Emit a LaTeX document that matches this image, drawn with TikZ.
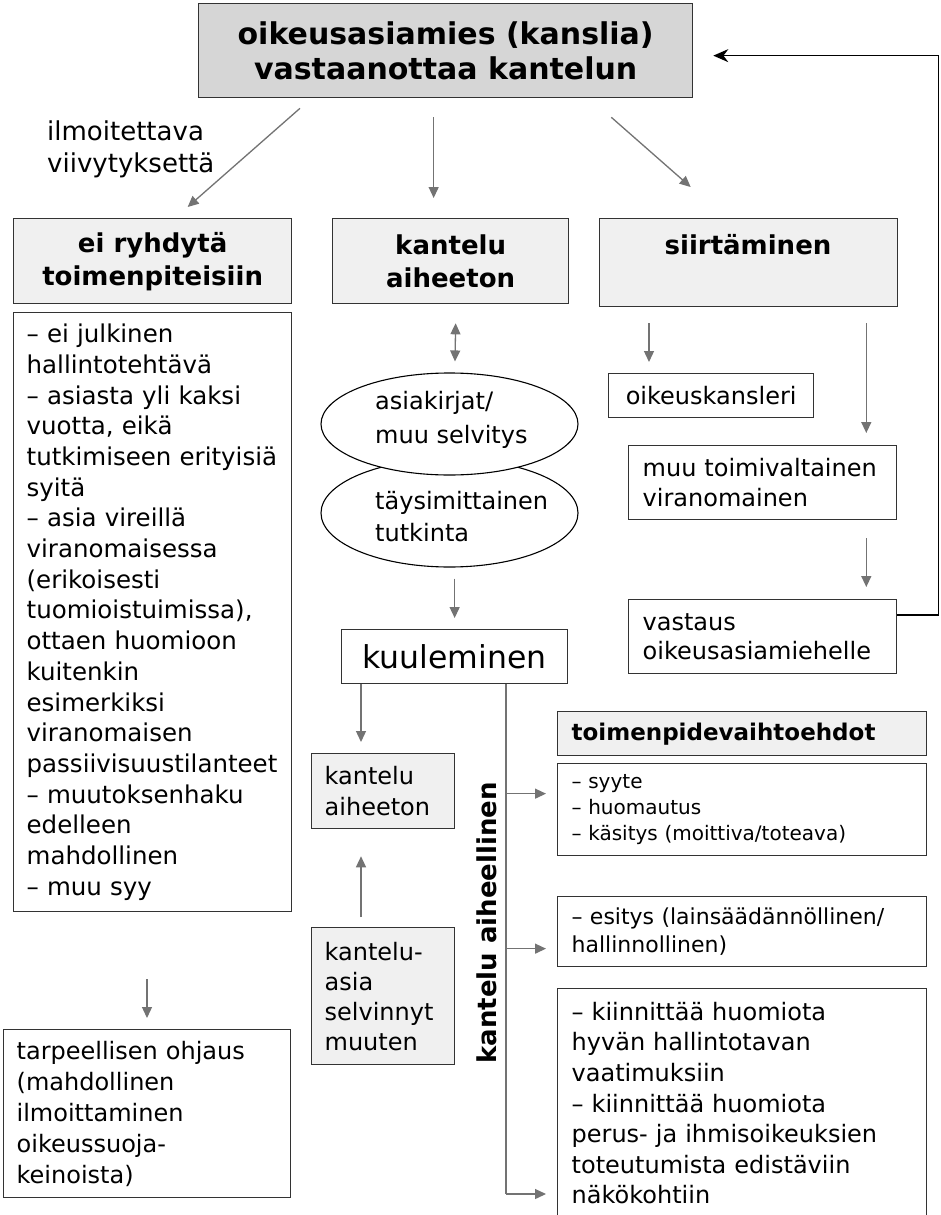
\documentclass[tikz,border=0pt]{standalone}
\usepackage{fontspec}
\setmainfont{DejaVu Sans}
\usetikzlibrary{arrows.meta,calc,shapes.geometric}
\newcommand\myfs[2]{\fontsize{#1}{#2}\selectfont}
\begin{document}
\begin{tikzpicture}[x=1pt,y=-1pt,
  box/.style={draw=black!80, line width=1.3pt, anchor=north west, inner sep=0pt},
  dark/.style={fill=black!16},
  light/.style={fill=black!6},
  arr/.style={draw=black!55, line width=1.3pt, -{Triangle[length=11pt,width=10pt]}},
  arrtwo/.style={draw=black!55, line width=1.3pt, {Triangle[length=11pt,width=10pt]}-{Triangle[length=11pt,width=10pt]}},
  gline/.style={draw=black!55, line width=1.3pt},
  fb/.style={draw=black, line width=1.5pt, -{Stealth[length=15pt,width=13pt]}},
  ell/.style={draw=black, line width=1.1pt, ellipse, inner sep=0pt}
]
\fill[white] (0,0) rectangle (940,1215);
\useasboundingbox (0,0) rectangle (940,1215);

% top
\node[box,dark,minimum width=494,minimum height=94,align=center,font=\bfseries\myfs{30}{35}] (top) at (198,3) {oikeusasiamies (kanslia)\\vastaanottaa kantelun};
\node[anchor=west,inner sep=0pt,align=left,font=\myfs{26}{32}] (ilm) at (47,149) {ilmoitettava\\viivytyksettä};

% row 2
\node[box,light,minimum width=278,minimum height=85,align=center,font=\bfseries\myfs{26}{33}] (n1) at (13,218) {ei ryhdytä\\toimenpiteisiin};
\node[box,light,minimum width=236,minimum height=85,align=center,font=\bfseries\myfs{26}{33}] (n2) at (332,218) {kantelu\\aiheeton};
\node[box,light,minimum width=298,minimum height=88] (n3) at (599,218) {};
\node[font=\bfseries\myfs{26}{33},inner sep=0pt] (n3t) at (748,245) {siirtäminen};

% left column
\node[box,minimum width=278,minimum height=599,text width=252,inner xsep=13pt,align=left,font=\myfs{24.5}{30.7}] (lb) at (13,312) {– ei julkinen\\hallintotehtävä\\– asiasta yli kaksi\\vuotta, eikä\\tutkimiseen erityisiä\\syitä\\– asia vireillä\\viranomaisessa\\(erikoisesti\\tuomioistuimissa),\\ottaen huomioon\\kuitenkin\\esimerkiksi\\viranomaisen\\passiivisuustilanteet\\– muutoksenhaku\\edelleen\\mahdollinen\\– muu syy};
\node[box,minimum width=287,minimum height=168,text width=261,inner xsep=13pt,align=left,font=\myfs{24}{31}] (tp) at (3,1029) {tarpeellisen ohjaus\\(mahdollinen\\ilmoittaminen\\oikeussuoja-\\keinoista)};

% middle column
\node[ell,minimum width=257,minimum height=108] (e2) at (449.5,513) {};
\node[ell,fill=white,minimum width=257,minimum height=102] (e1) at (449.5,424) {};
\node[anchor=west,align=left,inner sep=0pt,font=\myfs{24}{34}] (e1t) at (375,420) {asiakirjat/\\muu selvitys};
\node[anchor=west,align=left,inner sep=0pt,font=\myfs{24}{32}] (e2t) at (375,517) {täysimittainen\\tutkinta};
\node[box,minimum width=226,minimum height=54,font=\myfs{31.5}{36}] (ku) at (341,629) {kuuleminen};
\node[box,light,minimum width=143,minimum height=75,text width=117,inner xsep=13pt,align=left,font=\myfs{24}{31}] (ka2) at (311,753) {kantelu\\aiheeton};
\node[box,light,minimum width=143,minimum height=137,text width=117,inner xsep=13pt,align=left,font=\myfs{24}{30}] (ka3) at (311,927) {kantelu-\\asia\\selvinnyt\\muuten};
\node[rotate=90,inner sep=0pt,font=\bfseries\myfs{26}{30}] (kai) at (487,923) {kantelu aiheellinen};

% right lower boxes
\node[box,light,minimum width=369,minimum height=44,text width=341,inner xsep=14pt,align=left,font=\bfseries\myfs{23}{28}] (rh) at (557,711) {toimenpidevaihtoehdot};
\node[box,minimum width=369,minimum height=92,text width=341,inner xsep=14pt,align=left,font=\myfs{20}{26}] (r2) at (557,763) {– syyte\\– huomautus\\– käsitys (moittiva/toteava)};
\node[box,minimum width=369,minimum height=70,text width=341,inner xsep=14pt,align=left,font=\myfs{22}{28}] (r3) at (557,896) {– esitys (lainsäädännöllinen/\\hallinnollinen)};
\node[box,minimum width=369,minimum height=229,text width=341,inner xsep=14pt,align=left,font=\myfs{24}{30.6}] (r4) at (557,988) {– kiinnittää huomiota\\hyvän hallintotavan\\vaatimuksiin\\– kiinnittää huomiota\\perus- ja ihmisoikeuksien\\toteutumista edistäviin\\näkökohtiin};

% right column
\node[box,minimum width=205,minimum height=44,font=\myfs{24}{30}] (ok) at (608,373) {oikeuskansleri};
\node[box,minimum width=268,minimum height=74,text width=240,inner xsep=14pt,align=left,font=\myfs{24}{30}] (mt) at (628,445) {muu toimivaltainen\\viranomainen};
\node[box,minimum width=268,minimum height=74,text width=240,inner xsep=14pt,align=left,font=\myfs{24}{29}] (va) at (628,599) {vastaus\\oikeusasiamiehelle};

% connectors
\draw[arr] ($(top.south west)+(102,10)$) -- ($(n1.north)+(35,-11)$);
\draw[arr] ($(top.south)+(-12,19)$) -- ($(n2.north)+(-17,-20)$);
\draw[arr] ($(top.south east)+(-82,19)$) -- ($(n3.north)+(-58,-31)$);
\draw[arrtwo] ($(n2.south)+(5,19)$) -- ($(e1.north)+(5.5,-11)$);
\draw[arr,shorten <=11pt,shorten >=11pt] (ku.north |- e2.south) -- (ku.north);
\draw[arr] ($(ku.south west)+(20,0)$) -- ($(ka2.north west)+(50,-11)$);
\draw[arr] ($(ka3.north west)+(50,-10)$) -- ($(ka2.south west)+(50,27)$);
\coordinate (vt) at ($(ku.south west)+(165,0)$);
\coordinate (vb) at ($(r4.north west)+(-51,206)$);
\draw[gline] (vt) -- (vb);
\draw[arr] (vb) -- ($(r4.north west)+(-11,206)$);
\draw[arr] ($(vt |- r2.west)+(0,-16)$) -- ($(r2.west)+(-11,-16)$);
\draw[arr] ($(vt |- r3.west)+(0,17)$) -- ($(r3.west)+(-11,17)$);
\draw[arr] ($(lb.south west)+(134,67)$) -- ($(tp.north west)+(144,-11)$);
\draw[arr] ($(n3.south west)+(50,16)$) -- ($(ok.north west)+(41,-11)$);
\draw[arr] ($(n3.south east)+(-32,16)$) -- ($(mt.north east)+(-31,-12)$);
\draw[arr] ($(mt.south east)+(-31,18)$) -- ($(va.north east)+(-31,-12)$);
\draw[fb] ($(va.north east)+(0,16)$) -- ++(41,0) |- ($(top.east)+(20,5)$);
\end{tikzpicture}
\end{document}
